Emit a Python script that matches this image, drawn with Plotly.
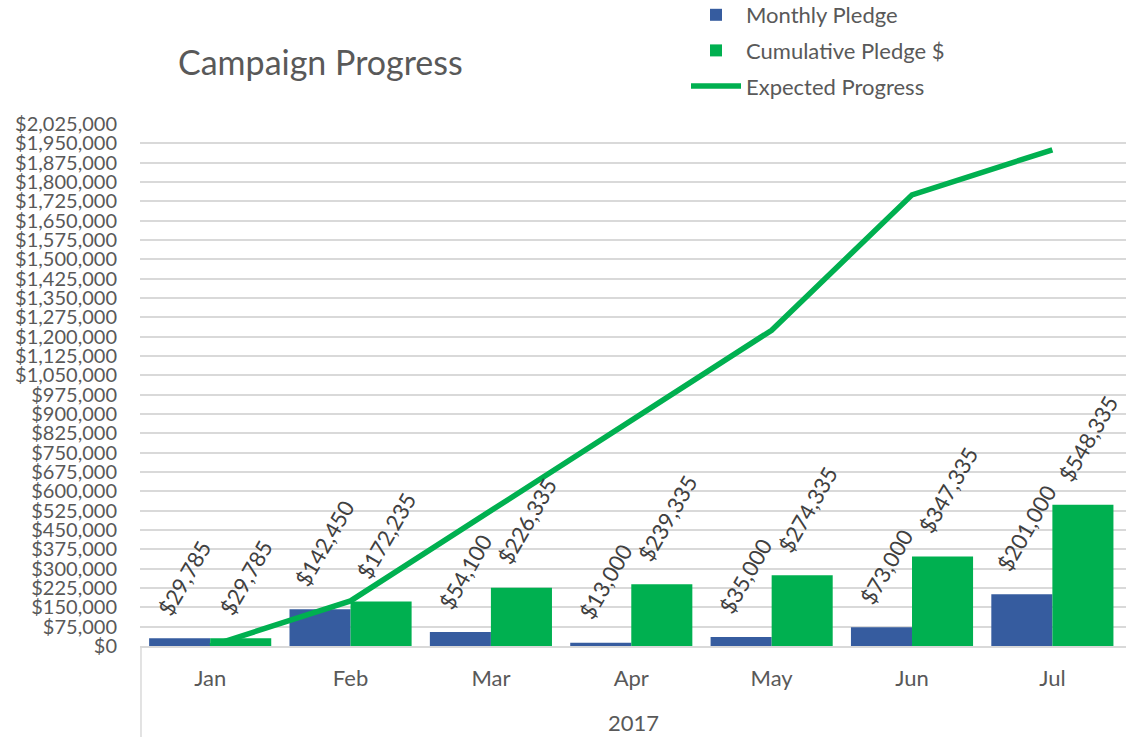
import plotly.graph_objects as go

months = ["Jan", "Feb", "Mar", "Apr", "May", "Jun", "Jul"]
year_label = "2017"
monthly_pledge = [29785, 142450, 54100, 13000, 35000, 73000, 201000]
cumulative_pledge = [29785, 172235, 226335, 239335, 274335, 347335, 548335]
expected_progress = [0, 175000, 525000, 875000, 1225000, 1750000, 1925000]

BLUE = "#365C9F"
GREEN = "#00B050"
GREY_TXT = "#595959"
GRID = "#D9D9D9"
FONT = "Lato"

fig = go.Figure()
fig.add_trace(go.Bar(x=months, y=monthly_pledge, name="Monthly Pledge",
                     marker=dict(color=BLUE, line=dict(width=0)), legendgroup="a"))
fig.add_trace(go.Bar(x=months, y=cumulative_pledge, name="Cumulative Pledge $",
                     marker=dict(color=GREEN, line=dict(width=0)), legendgroup="b"))
fig.add_trace(go.Scatter(x=months, y=expected_progress, name="Expected Progress",
                         mode="lines", line=dict(color=GREEN, width=5.5), legendgroup="c"))

annotations = []
for series, shift in ((monthly_pledge, -30.7), (cumulative_pledge, 30.7)):
    for m, v in zip(months, series):
        annotations.append(dict(x=m, y=v, xref="x", yref="y", text=f"${v:,}",
                                showarrow=False, textangle=-60, xanchor="center",
                                yanchor="bottom", xshift=shift + 5, yshift=16,
                                font=dict(family=FONT, size=22, color="#404040")))
annotations.append(dict(x=0.5, y=-0.146, xref="paper", yref="paper", text=year_label,
                        showarrow=False, xanchor="center", yanchor="middle",
                        font=dict(family=FONT, size=22, color=GREY_TXT)))

fig.update_layout(
    width=1126, height=737,
    margin=dict(l=140, r=0, t=124, b=91, autoexpand=False),
    paper_bgcolor="white", plot_bgcolor="white",
    barmode="group", bargap=0.13, bargroupgap=0,
    title=dict(text="Campaign Progress", x=178 / 1126, xref="container", xanchor="left",
               y=1 - 63 / 737, yref="container", yanchor="middle",
               font=dict(family=FONT, size=34, color=GREY_TXT)),
    font=dict(family=FONT, color=GREY_TXT),
    showlegend=True,
    legend=dict(x=(686 - 140) / 986, y=1 + 130 / 522, xref="paper", yref="paper",
                xanchor="left", yanchor="top", orientation="v",
                traceorder="grouped", tracegroupgap=4,
                font=dict(family=FONT, size=22, color=GREY_TXT),
                bgcolor="rgba(0,0,0,0)", itemwidth=50),
    annotations=annotations,
    shapes=[dict(type="line", xref="paper", yref="paper", x0=0.001, x1=0.001, y0=0, y1=-0.2,
                 line=dict(color=GRID, width=1.5))],
)
fig.update_xaxes(type="category", showgrid=False, showline=True, linecolor=GRID, linewidth=1.5,
                 ticks="outside", ticklen=12, tickcolor="rgba(0,0,0,0)", automargin=False,
                 tickfont=dict(family=FONT, size=22, color=GREY_TXT))
fig.update_yaxes(range=[0, 2025000], dtick=75000, tick0=0, tickprefix="$", tickformat=",d",
                 showgrid=True, gridcolor=GRID, gridwidth=1.5, zeroline=False,
                 ticks="", ticklabelstandoff=22, automargin=False,
                 tickfont=dict(family=FONT, size=20, color=GREY_TXT))

fig.write_html("out.html")
